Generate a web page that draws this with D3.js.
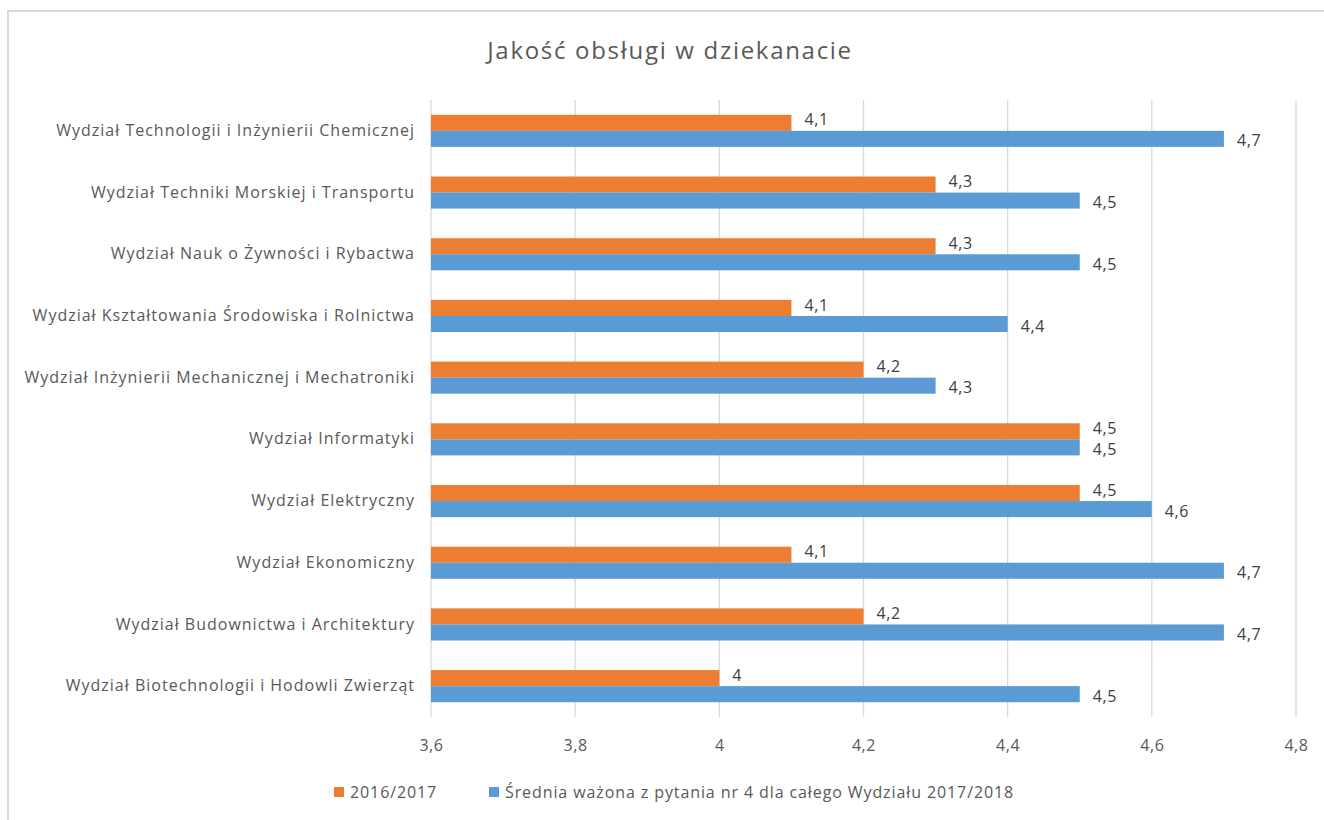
<!DOCTYPE html>
<html><head><meta charset="utf-8">
<script src="https://cdn.jsdelivr.net/npm/d3@7"></script>
<style>body{margin:0;background:#fff}svg{display:block}text{font-family:"Open Sans",Lato,sans-serif}</style>
</head><body><svg id="c" width="1324" height="820"></svg>
<script>
const categories = [
  "Wydział Technologii i Inżynierii Chemicznej",
  "Wydział Techniki Morskiej i Transportu",
  "Wydział Nauk o Żywności i Rybactwa",
  "Wydział Kształtowania Środowiska i Rolnictwa",
  "Wydział Inżynierii Mechanicznej i Mechatroniki",
  "Wydział Informatyki",
  "Wydział Elektryczny",
  "Wydział Ekonomiczny",
  "Wydział Budownictwa i Architektury",
  "Wydział Biotechnologii i Hodowli Zwierząt"
];
const values2016 = [4.1, 4.3, 4.3, 4.1, 4.2, 4.5, 4.5, 4.1, 4.2, 4];
const values2018 = [4.7, 4.5, 4.5, 4.4, 4.3, 4.5, 4.6, 4.7, 4.7, 4.5];
const xTicks = [3.6, 3.8, 4, 4.2, 4.4, 4.6, 4.8];
const seriesNames = ["2016/2017", "Średnia ważona z pytania nr 4 dla całego Wydziału 2017/2018"];
const colors = ["#ED7D31", "#5B9BD5"];
const title = "Jakość obsługi w dziekanacie";

const svg = d3.select("#c");
const fmt = v => String(v).replace(".", ",");
svg.append("rect").attr("x",8).attr("y",11).attr("width",1330).attr("height",830).attr("fill","none").attr("stroke","#D9D9D9").attr("stroke-width",2);

const x = d3.scaleLinear().domain([3.6, 4.8]).range([431, 1296]);
const y = d3.scaleBand().domain(categories).range([100, 717]);
const innerPad = y.bandwidth() * 0.48;
const sub = d3.scaleBand().domain([0,1]).range([0, y.bandwidth()-innerPad]);

svg.append("text").attr("x",670).attr("y",59).attr("text-anchor","middle").attr("font-size",24).attr("letter-spacing",1.7).attr("fill","#595959").text(title);

svg.append("g").selectAll("line").data(xTicks).join("line")
  .attr("x1",d=>x(d)).attr("x2",d=>x(d)).attr("y1",100).attr("y2",717)
  .attr("stroke","#D9D9D9").attr("stroke-width",1.3);

const xAxis = d3.axisBottom(x).tickValues(xTicks).tickFormat(fmt).tickSize(0).tickPadding(0);
const gx = svg.append("g").attr("transform","translate(0,740)").call(xAxis);
gx.select(".domain").remove();
gx.selectAll("text").attr("font-size",16).attr("letter-spacing",0.6).attr("fill","#595959").attr("dy","0.35em").attr("y",5).attr("font-family","'Open Sans'");

const yAxis = d3.axisLeft(y).tickSize(0).tickPadding(0);
const gy = svg.append("g").attr("transform","translate(415,0)").call(yAxis);
gy.select(".domain").remove();
gy.selectAll("text").attr("font-size",16).attr("letter-spacing",1).attr("fill","#595959").attr("font-family","'Open Sans'");

const data = [values2016, values2018];
data.forEach((vals, si) => {
  const g = svg.append("g");
  g.selectAll("rect").data(vals).join("rect")
    .attr("x", x(3.6))
    .attr("y", (d,i) => y(categories[i]) + innerPad/2 + sub(si))
    .attr("width", d => x(d) - x(3.6))
    .attr("height", sub.bandwidth())
    .attr("fill", colors[si]);
  g.selectAll("text").data(vals).join("text")
    .attr("x", d => x(d) + 13)
    .attr("y", (d,i) => y(categories[i]) + innerPad/2 + sub(si) + sub.bandwidth()/2 + (si===0?-3:2))
    .attr("dy","0.35em")
    .attr("font-size",16).attr("letter-spacing",0.6).attr("fill","#404040")
    .text(fmt);
});

const legX = [334, 489];
seriesNames.forEach((n, i) => {
  svg.append("rect").attr("x",legX[i]).attr("y",787).attr("width",10).attr("height",10).attr("fill",colors[i]);
  svg.append("text").attr("x",legX[i]+16).attr("y",792).attr("dy","0.35em").attr("font-size",16).attr("letter-spacing",0.9).attr("fill","#595959").text(n);
});
</script></body></html>
